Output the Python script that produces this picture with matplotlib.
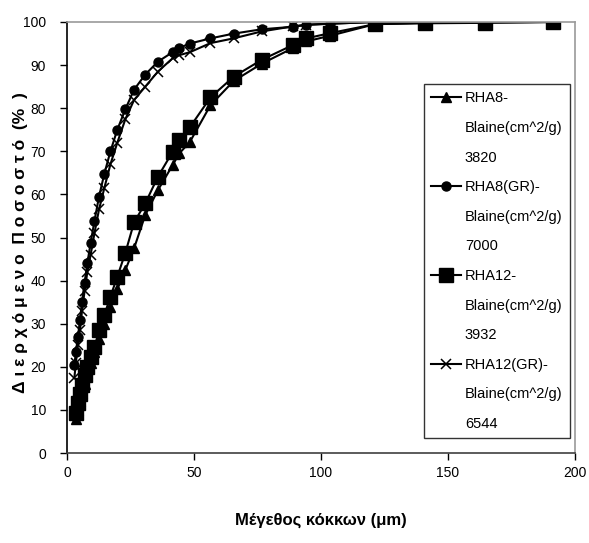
import matplotlib
matplotlib.use("Agg")
import matplotlib.pyplot as plt
from matplotlib.lines import Line2D

plt.rcParams["font.family"] = ["Liberation Sans Narrow", "Liberation Sans", "DejaVu Sans"]

# particle size grid (um)
size_um = [2.9, 3.5, 4.3, 5.1, 5.9, 6.9, 8.0, 9.3, 10.8, 12.6, 14.7, 17.1, 19.8, 23.0, 26.4,
           30.8, 35.8, 41.6, 44.2, 48.4, 56.5, 65.6, 76.6, 89.1, 94.3, 103.5, 121.3, 141.0,
           164.6, 191.3]

# cumulative passing (%)
rha8 = [None, 8.0, 10.0, 12.0, 14.0, 16.0, 18.5, 21.0, 23.5, 26.5, 30.0, 33.8, 38.0, 42.5,
        47.5, 55.2, 61.0, 66.8, 69.5, 72.2, 80.7, 86.3, 90.3, 94.0, 95.5, 96.8, 99.5, 99.8,
        99.9, 100.0]
rha8_gr = [20.4, 23.5, 27.0, 30.9, 35.1, 39.5, 44.0, 48.8, 53.8, 59.5, 64.8, 70.0, 75.0,
           79.8, 84.3, 87.8, 90.8, 93.0, 94.0, 95.0, 96.2, 97.3, 98.3, 98.9, 99.3, 99.6,
           100.0, 100.0, 100.0, 100.0]
rha12 = [None, 9.2, 11.5, 13.8, 15.8, 18.0, 20.0, 22.3, 24.5, 28.5, 32.0, 36.3, 40.9, 46.5,
         53.5, 57.9, 64.1, 69.9, 72.6, 75.6, 82.5, 87.3, 91.2, 94.7, 96.2, 97.4, 99.5, 99.7,
         99.8, 100.0]
rha12_gr = [17.5, 21.0, 25.0, 28.5, 33.0, 37.5, 42.0, 46.0, 51.0, 56.5, 61.5, 67.0, 72.0,
            77.5, 81.9, 85.0, 88.5, 91.6, 92.3, 93.0, 95.1, 96.2, 97.8, 99.0, 99.4, 99.6,
            100.0, 100.0, 100.0, 100.0]

labels = [
    ["RHA8-", "Blaine(cm^2/g)", "3820"],
    ["RHA8(GR)-", "Blaine(cm^2/g)", "7000"],
    ["RHA12-", "Blaine(cm^2/g)", "3932"],
    ["RHA12(GR)-", "Blaine(cm^2/g)", "6544"],
]


def pairs(xs, ys):
    pts = [(x, y) for x, y in zip(xs, ys) if y is not None]
    return [p[0] for p in pts], [p[1] for p in pts]


fig = plt.figure(figsize=(5.89, 5.43), dpi=100)
ax = fig.add_axes([0.1138, 0.1657, 0.8622, 0.7938])

styles = [
    (rha8, dict(marker="^", markersize=6.5)),
    (rha8_gr, dict(marker="o", markersize=6.5)),
    (rha12, dict(marker="s", markersize=9.5)),
    (rha12_gr, dict(marker="x", markersize=7, markeredgewidth=1.1)),
]
handles, texts = [], []
for (ys, st), lab in zip(styles, labels):
    xs, yv = pairs(size_um, ys)
    ln, = ax.plot(xs, yv, color="black", linewidth=1.5, markerfacecolor="black",
                  markeredgecolor="black", **st)
    # legend: marker handle on first line only, blank handles for the wrapped lines
    handles.append(ln)
    texts.append(lab[0])
    for extra in lab[1:]:
        handles.append(Line2D([], [], color="none"))
        texts.append(extra)

ax.set_xlim(0, 200)
ax.set_ylim(0, 100)
ax.set_xticks([0, 50, 100, 150, 200])
ax.set_yticks(range(0, 101, 10))
ax.tick_params(axis="both", labelsize=10, length=5, width=1, color="black", direction="out")
ax.tick_params(axis="y", pad=10)
ax.tick_params(axis="x", pad=4)

ax.spines["left"].set_color("black")
ax.spines["bottom"].set_color("#404040")
ax.spines["top"].set_color("#9a9a9a")
ax.spines["right"].set_color("#9a9a9a")
for s in ax.spines.values():
    s.set_linewidth(1.2)

ax.set_xlabel("Μέγεθος κόκκων (μm)", fontsize=12, fontweight="bold", labelpad=24)
fig.text(0.035, 0.553, "Δ ι ε ρ χ ό μ ε ν ο  Π ο σ ο σ τ ό  (%  )", rotation=90,
         fontsize=12.5, fontweight="bold", ha="center", va="center")

leg = ax.legend(handles, texts, loc="upper left", bbox_to_anchor=(0.72, 0.845),
                bbox_transform=fig.transFigure, fontsize=10.5, frameon=True, fancybox=False,
                edgecolor="black", handlelength=2.0, handletextpad=0.3, labelspacing=1.07,
                borderpad=0.5, borderaxespad=0)
leg.get_frame().set_linewidth(1.0)

fig.savefig("out.png", dpi=100)
